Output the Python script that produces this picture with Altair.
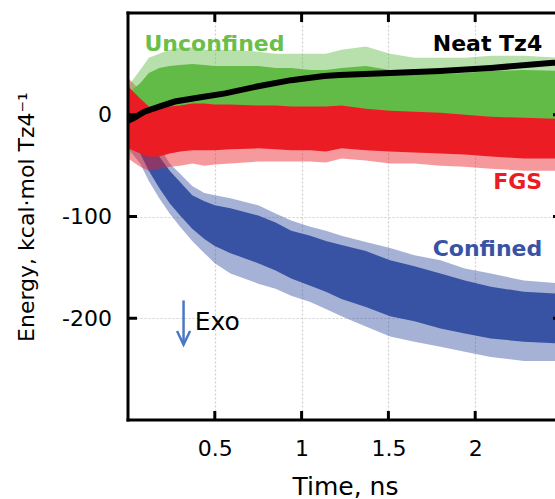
import altair as alt
import pandas as pd

FONT = "DejaVu Sans"

# ---- data (time in ns, energy in kcal/mol Tz4) ----
time_ns = [0.0, 0.07, 0.12, 0.18, 0.24, 0.30, 0.37, 0.44, 0.50, 0.59, 0.75, 0.85,
           0.94, 1.05, 1.14, 1.23, 1.37, 1.51, 1.65, 1.80, 1.94, 2.09, 2.28, 2.50]

# Confined (blue): outer spikes and dense core
conf_fr_hi = [16, -3, -15, -31, -48, -58, -70, -77, -79, -82, -89, -97,
              -104, -110, -114, -119, -125, -131, -138, -143, -151, -156, -163, -166]
conf_core_hi = [6, -11, -25, -41, -55, -66, -79, -85, -89, -92, -99, -106,
                -114, -119, -124, -128, -134, -143, -149, -156, -163, -169, -174, -176]
conf_core_lo = [-18, -38, -55, -72, -87, -99, -112, -122, -129, -136, -146, -153,
                -161, -168, -174, -181, -189, -198, -203, -210, -215, -220, -223, -225]
conf_fr_lo = [-33, -48, -65, -82, -97, -110, -124, -136, -146, -156, -166, -171,
              -178, -184, -191, -198, -208, -218, -223, -228, -233, -238, -242, -242]

# Unconfined (green)
unc_fr_hi = [28, 44, 56, 60, 64, 66, 66, 64, 64, 64, 62, 60,
             60, 60, 60, 64, 67, 60, 56, 56, 56, 58, 58, 56]
unc_core_hi = [21, 31, 41, 46, 48, 49, 50, 49, 48, 48, 48, 46,
               46, 44, 44, 46, 48, 44, 41, 40, 41, 43, 44, 43]
unc_core_lo = [-8, -5, -3, -2, -2, -2, -2, -2, -2, -2, -2, -3,
               -3, -3, -3, -3, -3, -5, -5, -6, -6, -7, -8, -8]
unc_fr_lo = [-43, -18, -13, -11, -11, -11, -11, -11, -11, -11, -11, -11,
             -11, -11, -11, -11, -13, -13, -13, -15, -15, -15, -17, -17]

# FGS (red)
fgs_fr_hi = [36, 24, 18, 18, 18, 19, 21, 21, 21, 20, 20, 19,
             18, 18, 18, 19, 16, 14, 13, 12, 10, 8, 6, 4]
fgs_core_hi = [28, 16, 8, 6, 8, 9, 11, 11, 10, 10, 9, 9,
               8, 8, 8, 9, 6, 4, 3, 2, 0, -2, -3, -4]
fgs_core_lo = [-33, -38, -41, -41, -38, -36, -35, -35, -35, -34, -33, -34,
               -35, -35, -36, -33, -35, -36, -37, -38, -39, -41, -43, -43]
fgs_fr_lo = [-43, -51, -55, -53, -51, -50, -48, -50, -49, -48, -46, -46,
             -46, -46, -47, -43, -45, -48, -48, -50, -51, -53, -55, -55]

# Neat Tz4 (black)
neat_t = [0.0, 0.035, 0.095, 0.18, 0.27, 0.41, 0.56, 0.75, 0.94, 1.13, 1.22,
          1.51, 1.80, 2.09, 2.45, 2.50]
neat_e = [-6, -3, 3, 8, 13, 17, 21, 28, 34, 38, 39, 41, 43, 46, 51, 52]

x_ticks = [0.5, 1, 1.5, 2]
y_ticks = [-200, -100, 0]
x_range = [0, 2.5]
y_range = [-300, 100]

labels = ["Unconfined", "Neat Tz4", "FGS", "Confined"]
label_t = [0.095, 2.386, 2.386, 2.386]
label_e = [63, 62.5, -73, -138.5]
label_align = ["left", "right", "right", "right"]
label_color = ["#6abf4b", "#000000", "#ec1c24", "#3953a4"]

exo_text = "Exo"
exo_t, exo_e = 0.384, -212
arrow_t, arrow_top, arrow_tip = 0.32, -182.5, -226

GREEN, RED, BLUE = "#62bb46", "#ec1c24", "#3953a4"

# ---- chart ----
XS = alt.Scale(domain=x_range, nice=False, zero=False)
YS = alt.Scale(domain=y_range, nice=False, zero=False)

x_axis = alt.Axis(values=x_ticks, format="~g", grid=True, gridColor="#cfcfcf",
                  gridDash=[2, 2], gridWidth=1.2, ticks=False, tickSize=0,
                  domain=False, labelFont=FONT, labelFontSize=22, labelColor="black",
                  labelPadding=18.5, title="Time, ns", titleFont=FONT,
                  titleFontSize=25, titleFontWeight="normal", titleColor="black",
                  titleX=217, titleY=74, titleBaseline="alphabetic", titleAlign="center")
y_axis = alt.Axis(values=y_ticks, grid=True, gridColor="#cfcfcf", gridDash=[2, 2],
                  gridWidth=1.2, ticks=False, tickSize=0, domain=False,
                  labelExpr="datum.value < 0 ? '-' + abs(datum.value) : '' + datum.value",
                  labelFont=FONT, labelFontSize=22, labelColor="black", labelPadding=16.5,
                  title="Energy, kcal·mol Tz4⁻¹", titleFont=FONT, titleFontSize=22,
                  titleFontWeight="normal", titleColor="black", titleAngle=270,
                  titleX=-102, titleY=203.5, titleAlign="center", titleBaseline="middle")


def X(field):
    return alt.X(field, scale=XS, axis=x_axis)


def Y(field):
    return alt.Y(field, scale=YS, axis=y_axis)


def band_df(lo_fr, lo, hi, hi_fr):
    return pd.DataFrame({"t": time_ns, "fr_lo": lo_fr, "core_lo": lo,
                         "core_hi": hi, "fr_hi": hi_fr})


def fringe(df, color):
    return alt.Chart(df).mark_area(color=color, opacity=0.45).encode(
        x=X("t:Q"), y=Y("fr_lo:Q"), y2="fr_hi:Q")


def core(df, color):
    return alt.Chart(df).mark_area(color=color, opacity=1).encode(
        x=X("t:Q"), y=Y("core_lo:Q"), y2="core_hi:Q")


blue_df = band_df(conf_fr_lo, conf_core_lo, conf_core_hi, conf_fr_hi)
green_df = band_df(unc_fr_lo, unc_core_lo, unc_core_hi, unc_fr_hi)
red_df = band_df(fgs_fr_lo, fgs_core_lo, fgs_core_hi, fgs_fr_hi)

layers = [
    fringe(blue_df, BLUE), core(blue_df, BLUE),
    fringe(red_df, RED),
    fringe(green_df, GREEN), core(green_df, GREEN),
    core(red_df, RED),
]

neat_df = pd.DataFrame({"t": neat_t, "e": neat_e})
layers.append(alt.Chart(neat_df).mark_line(color="black", strokeWidth=6).encode(
    x=X("t:Q"), y=Y("e:Q")))

# frame (left, bottom, top, right) and inward ticks
tx = 9 / 173.6
ty = 9 / 1.0175
seg_rows = [
    {"x": x_range[0], "x2": x_range[0], "y": y_range[0], "y2": y_range[1]},
    {"x": x_range[0], "x2": x_range[1], "y": y_range[0], "y2": y_range[0]},
    {"x": x_range[0], "x2": x_range[1], "y": y_range[1], "y2": y_range[1]},
    {"x": x_range[1], "x2": x_range[1], "y": y_range[0], "y2": y_range[1]},
]
tick_rows = []
for v in x_ticks:
    tick_rows.append({"x": v, "x2": v, "y": y_range[0], "y2": y_range[0] + ty})
    tick_rows.append({"x": v, "x2": v, "y": y_range[1], "y2": y_range[1] - ty})
for v in y_ticks:
    tick_rows.append({"x": x_range[0], "x2": x_range[0] + tx, "y": v, "y2": v})
    tick_rows.append({"x": x_range[1] - tx, "x2": x_range[1], "y": v, "y2": v})

frame = alt.Chart(pd.DataFrame(seg_rows)).mark_rule(
    color="black", strokeWidth=3, strokeCap="square").encode(
    x=X("x:Q"), x2="x2:Q", y=Y("y:Q"), y2="y2:Q")
ticks = alt.Chart(pd.DataFrame(tick_rows)).mark_rule(
    color="black", strokeWidth=3).encode(
    x=X("x:Q"), x2="x2:Q", y=Y("y:Q"), y2="y2:Q")
layers += [frame, ticks]

# series labels
for txt, t, e, al, col in zip(labels, label_t, label_e, label_align, label_color):
    d = pd.DataFrame({"t": [t], "e": [e], "txt": [txt]})
    layers.append(alt.Chart(d).mark_text(
        font=FONT, fontSize=22, fontWeight="bold", color=col, align=al,
        baseline="alphabetic").encode(x=X("t:Q"), y=Y("e:Q"), text="txt:N"))

# Exo arrow
exo_df = pd.DataFrame({"t": [exo_t], "e": [exo_e], "txt": [exo_text]})
layers.append(alt.Chart(exo_df).mark_text(
    font=FONT, fontSize=25, color="black", align="left", baseline="alphabetic").encode(
    x=X("t:Q"), y=Y("e:Q"), text="txt:N"))
arr_df = pd.DataFrame({"t": [arrow_t], "top": [arrow_top], "tip": [arrow_tip]})
layers.append(alt.Chart(arr_df).mark_rule(color="#4a78c2", strokeWidth=2.5).encode(
    x=X("t:Q"), y=Y("top:Q"), y2="tip:Q"))
layers.append(alt.Chart(arr_df).mark_point(
    shape="M -1 -2.1 L 0 0 L 1 -2.1", size=169, filled=False, color="#4a78c2",
    strokeWidth=2.5, opacity=1).encode(x=X("t:Q"), y=Y("tip:Q")))

chart = alt.layer(*layers).properties(
    width=434, height=407,
    autosize=alt.AutoSizeParams(type="none"),
    padding={"left": 128, "top": 13, "right": -7, "bottom": 79},
    background="white",
).configure_view(stroke=None)

chart.save("out.html", embed_options={"renderer": "svg", "actions": False})
